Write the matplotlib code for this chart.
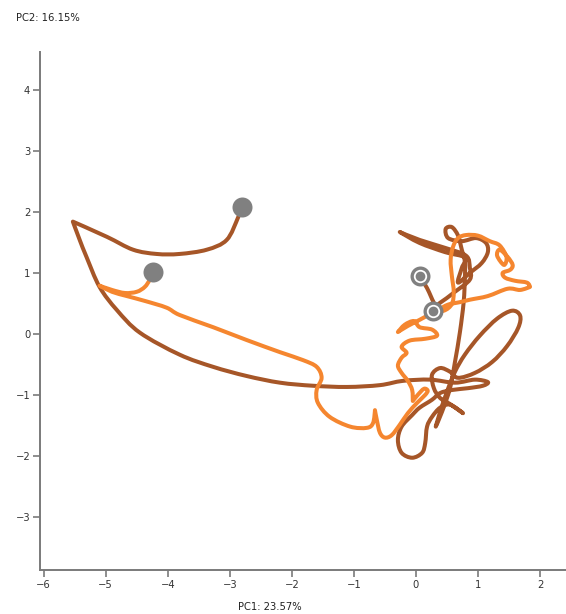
import matplotlib
matplotlib.use("Agg")
import matplotlib.pyplot as plt
import numpy as np
from matplotlib.path import Path
from matplotlib.patches import PathPatch

# Trajectory of the first sample (brown) in PC space
brown_x = [-2.81, -2.87, -3.05, -3.37, -3.81, -4.18, -4.56, -4.98, -5.53,
           -5.42, -5.31, -5.10, -4.82, -4.45, -3.81, -3.27, -2.73, -2.19,
           -1.66, -1.11, -0.58, -0.21, 0.23, 0.63, 0.95, 1.16, 1.08, 0.84,
           0.58, 0.39, 0.26, 0.06, -0.06, -0.23, -0.29, -0.23, -0.06, 0.10,
           0.15, 0.18, 0.26, 0.39, 0.55, 0.76, 0.55, 0.39, 0.29, 0.26, 0.39,
           0.55, 0.68, 0.95, 1.23, 1.47, 1.65, 1.68, 1.55, 1.31, 1.03, 0.79,
           0.63, 0.50, 0.39, 0.32, 0.42, 0.55, 0.63, 0.71, 0.77, 0.79, 0.79,
           0.74, 0.68, 0.58, 0.48, 0.52, 0.74, 0.97, 1.13, 1.16, 1.06, 0.87,
           0.68, 0.74, 0.79, 0.47, 0.06, -0.26, 0.06, 0.47, 0.81, 0.87, 0.87,
           0.63, 0.39, 0.31, 0.18, 0.06]
brown_y = [2.08, 1.90, 1.54, 1.38, 1.31, 1.31, 1.38, 1.59, 1.84,
           1.54, 1.26, 0.77, 0.39, 0.02, -0.34, -0.54, -0.69, -0.80,
           -0.85, -0.87, -0.84, -0.77, -0.75, -0.80, -0.75, -0.79, -0.85, -0.89,
           -0.92, -0.97, -1.08, -1.21, -1.33, -1.52, -1.74, -1.95, -2.03, -1.95,
           -1.79, -1.52, -1.36, -1.21, -1.16, -1.30, -1.15, -1.05, -0.89, -0.67, -0.56,
           -0.62, -0.72, -0.64, -0.46, -0.20, 0.10, 0.30, 0.38, 0.25, -0.03, -0.34,
           -0.62, -0.95, -1.28, -1.52, -1.28, -0.89, -0.46, 0.03, 0.52, 0.92, 1.18,
           1.38, 1.61, 1.75, 1.72, 1.57, 1.52, 1.57, 1.49, 1.34, 1.16, 1.00,
           0.84, 1.08, 1.25, 1.34, 1.49, 1.67, 1.54, 1.41, 1.28, 1.08, 0.89,
           0.69, 0.51, 0.48, 0.75, 0.95]
brown_corners = [8, 43, 63, 87]

# Trajectory of the second sample (orange)
orange_x = [-4.24, -4.29, -4.37, -4.50, -4.69, -4.90, -5.10, -4.90, -4.66,
            -4.37, -4.02, -3.81, -3.27, -2.73, -2.19, -1.82, -1.60, -1.52,
            -1.60, -1.58, -1.39, -1.06, -0.79, -0.69, -0.66, -0.63, -0.58,
            -0.50, -0.39, -0.26, -0.13, 0.02, 0.15, 0.19, 0.13, 0.03, -0.05,
            -0.06, -0.13, -0.23, -0.29, -0.23, -0.15, -0.23, -0.10, 0.15, 0.34,
            0.26, 0.06, -0.03, -0.18, -0.29, -0.13, 0.06, 0.35, 0.52, 0.71,
            0.87, 1.16, 1.48, 1.68, 1.84, 1.79, 1.60, 1.44, 1.40, 1.52, 1.56,
            1.48, 1.35, 1.31, 1.42, 1.46, 1.35, 1.19, 1.00, 0.81, 0.68, 0.60,
            0.56, 0.58, 0.61, 0.58, 0.45, 0.27]
orange_y = [1.02, 0.89, 0.77, 0.69, 0.67, 0.72, 0.79, 0.69, 0.62,
            0.54, 0.43, 0.31, 0.11, -0.10, -0.30, -0.43, -0.54, -0.72,
            -0.92, -1.13, -1.36, -1.52, -1.54, -1.46, -1.25, -1.41, -1.62,
            -1.70, -1.66, -1.49, -1.30, -1.13, -1.00, -0.93, -0.90, -1.00, -1.10,
            -0.92, -0.77, -0.64, -0.52, -0.39, -0.31, -0.21, -0.11, -0.08, -0.03,
            0.07, 0.11, 0.21, 0.15, 0.03, 0.13, 0.23, 0.39, 0.48, 0.52,
            0.56, 0.62, 0.74, 0.72, 0.77, 0.84, 0.87, 0.92, 1.00, 1.05, 1.13,
            1.26, 1.38, 1.28, 1.13, 1.26, 1.45, 1.52, 1.61, 1.62, 1.57, 1.43,
            1.21, 0.95, 0.69, 0.49, 0.38, 0.38]
orange_corners = [6, 24, 36, 51, 61]

x_ticks = [-6, -5, -4, -3, -2, -1, 0, 1, 2]
y_ticks = [-3, -2, -1, 0, 1, 2, 3, 4]
x_label = "PC1: 23.57%"
y_label = "PC2: 16.15%"

brown = "#a65628"
orange = "#f5862f"
grey = "#808080"
axis_grey = "#7a7a7a"


def smooth_path(xs, ys, corners=()):
    # Catmull-Rom curve through the points, drawn as cubic beziers;
    # the tangent is zero at the corner points so they stay sharp
    pts = np.column_stack([xs, ys])
    n = len(pts)
    tang = np.zeros_like(pts)
    for i in range(n):
        if i in corners:
            continue
        a = pts[max(i - 1, 0)]
        b = pts[min(i + 1, n - 1)]
        tang[i] = (b - a) / 6
    verts = [pts[0]]
    codes = [Path.MOVETO]
    for i in range(n - 1):
        verts += [pts[i] + tang[i], pts[i + 1] - tang[i + 1], pts[i + 1]]
        codes += [Path.CURVE4] * 3
    return Path(verts, codes)


fig = plt.figure(figsize=(5.66, 6.14), dpi=100)
ax = fig.add_axes([40 / 566, 44 / 614, 526 / 566, 518 / 614])

for xs, ys, cn, col, z in [(brown_x, brown_y, brown_corners, brown, 2),
                           (orange_x, orange_y, orange_corners, orange, 3)]:
    patch = PathPatch(smooth_path(xs, ys, cn), fill=False, edgecolor=col, lw=2.9,
                      capstyle="round", joinstyle="round", zorder=z)
    ax.add_patch(patch)

# start markers: filled grey circles
for xs, ys in [(brown_x, brown_y), (orange_x, orange_y)]:
    ax.plot(xs[0], ys[0], "o", ms=14.4, color=grey, mec="none", zorder=5)

# end markers: grey ring with a grey dot
for xs, ys in [(brown_x, brown_y), (orange_x, orange_y)]:
    ax.plot(xs[-1], ys[-1], "o", ms=14.4, color=grey, mec="none", zorder=5)
    ax.plot(xs[-1], ys[-1], "o", ms=9.6, color="white", mec="none", zorder=6)
    ax.plot(xs[-1], ys[-1], "o", ms=7.0, color=grey, mec="none", zorder=7)

ax.set_xlim(-6.06, 2.42)
ax.set_ylim(-3.87, 4.62)
ax.set_xticks(x_ticks)
ax.set_yticks(y_ticks)

for side in ["top", "right"]:
    ax.spines[side].set_visible(False)
for side in ["left", "bottom"]:
    ax.spines[side].set_color(axis_grey)
    ax.spines[side].set_linewidth(1.4)

ax.tick_params(axis="both", direction="out", length=5, width=1.2,
               color=axis_grey, labelsize=7.2, labelcolor="#333333", pad=2)

fig.text(16 / 566, 1 - 18 / 614, y_label, fontsize=7.2, color="#222222",
         ha="left", va="center")
fig.text(270 / 566, 1 - 607 / 614, x_label, fontsize=7.2, color="#222222",
         ha="center", va="center")

fig.savefig("out.png", dpi=100)
